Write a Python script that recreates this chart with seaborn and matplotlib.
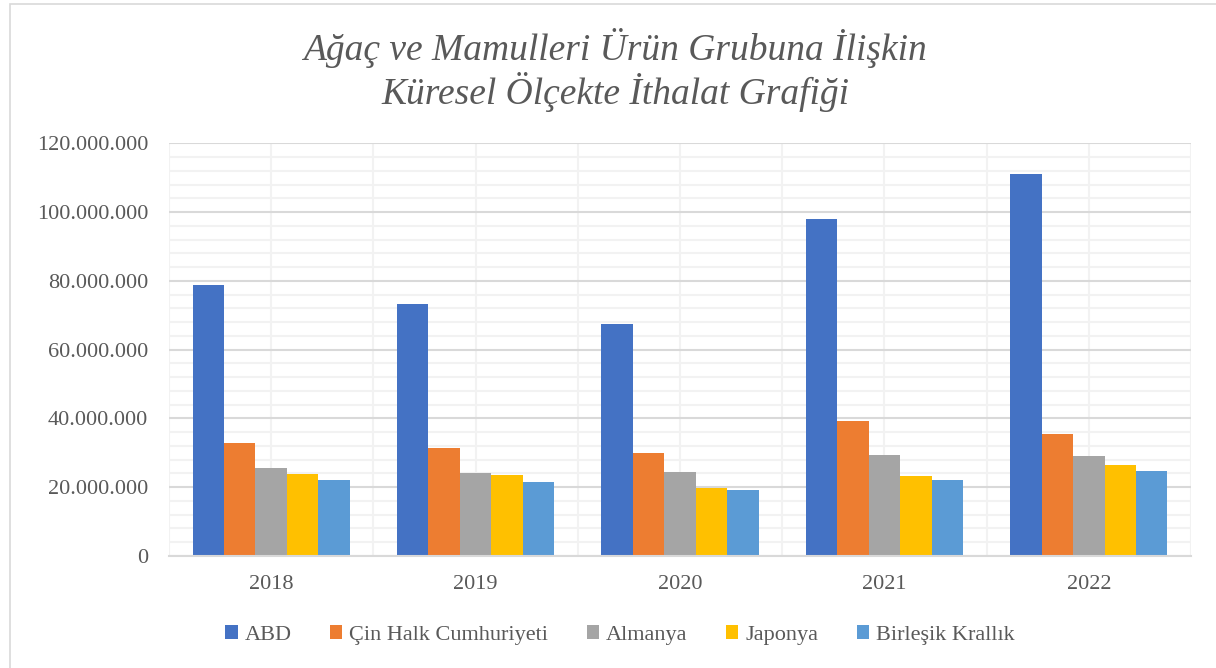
import pandas as pd
import numpy as np
import matplotlib
matplotlib.use('Agg')
import matplotlib.pyplot as plt
import matplotlib.patches as patches
from matplotlib.ticker import FuncFormatter, MultipleLocator
import seaborn as sb

# Veriler
years = ['2018', '2019', '2020', '2021', '2022']
countries = ['ABD', 'Çin Halk Cumhuriyeti', 'Almanya', 'Japonya', 'Birleşik Krallık']
abd = [78.8e6, 73.3e6, 67.4e6, 97.9e6, 111.0e6]
cin = [32.8e6, 31.3e6, 29.9e6, 39.2e6, 35.5e6]
almanya = [25.5e6, 24.1e6, 24.5e6, 29.3e6, 29.0e6]
japonya = [23.8e6, 23.5e6, 19.9e6, 23.3e6, 26.4e6]
birlesik = [22.1e6, 21.5e6, 19.3e6, 22.1e6, 24.7e6]
colors = ['#4472C4', '#ED7D31', '#A5A5A5', '#FFC000', '#5B9BD5']

series = [abd, cin, almanya, japonya, birlesik]
rows = []
for name, vals in zip(countries, series):
    for y, v in zip(years, vals):
        rows.append({'Yıl': y, 'Ülke': name, 'Değer': v})
data = pd.DataFrame(rows)

sb.set_theme(style='white')
plt.rcParams['font.family'] = ['Liberation Serif', 'DejaVu Serif']
text_color = '#595959'

fig = plt.figure(figsize=(12.16, 6.68), dpi=100)
ax = fig.add_axes([169 / 1216, 1 - 556 / 668, (1191 - 169) / 1216, (556 - 143.3) / 668])

sb.barplot(data=data, x='Yıl', y='Değer', hue='Ülke', hue_order=countries,
           palette=colors, width=0.77, saturation=1, ax=ax, linewidth=0,
           legend=True)

ax.set_ylim(0, 120e6)
ax.set_xlim(-0.5, 4.5)
ax.yaxis.set_major_locator(MultipleLocator(20e6))
ax.yaxis.set_minor_locator(MultipleLocator(4e6))
ax.xaxis.set_minor_locator(MultipleLocator(0.5))
ax.yaxis.set_major_formatter(FuncFormatter(lambda v, p: f'{int(round(v)):,}'.replace(',', '.')))

ax.set_axisbelow(True)
ax.grid(which='minor', axis='y', color='#F2F2F2', linewidth=1.5)
ax.grid(which='major', axis='y', color='#D9D9D9', linewidth=1.5)
ax.grid(which='minor', axis='x', color='#F2F2F2', linewidth=1.5)
ax.grid(which='major', axis='x', color='#F2F2F2', linewidth=1.5)

for side in ['top', 'right', 'left']:
    ax.spines[side].set_visible(False)
ax.spines['bottom'].set_color('#D9D9D9')
ax.spines['bottom'].set_linewidth(1.5)

ax.tick_params(axis='y', which='both', length=0, labelsize=16, labelcolor=text_color, pad=15)
ax.tick_params(axis='x', which='both', length=0, labelsize=16, labelcolor=text_color, pad=14)
ax.set_xlabel('')
ax.set_ylabel('')

handles, labels = ax.get_legend_handles_labels()
ax.get_legend().remove()
fig.legend(handles, labels, loc='center', bbox_to_anchor=(620 / 1216, 1 - 635 / 668),
           ncol=5, frameon=False, fontsize=16, handlelength=0.55, handleheight=0.55,
           handletextpad=0.3, columnspacing=1.75, labelcolor=text_color)

fig.text(615 / 1216, 1 - 70 / 668, 'Ağaç ve Mamulleri Ürün Grubuna İlişkin\nKüresel Ölçekte İthalat Grafiği',
         ha='center', va='center', fontsize=27, style='italic', color=text_color, linespacing=1.15)

fig.patches.append(patches.Rectangle((10 / 1216, -0.1), 1.2, 1 - 4 / 668 + 0.1,
                                     transform=fig.transFigure, fill=False,
                                     edgecolor='#D9D9D9', linewidth=1.2))

fig.savefig('out.png', dpi=100, facecolor='white')
